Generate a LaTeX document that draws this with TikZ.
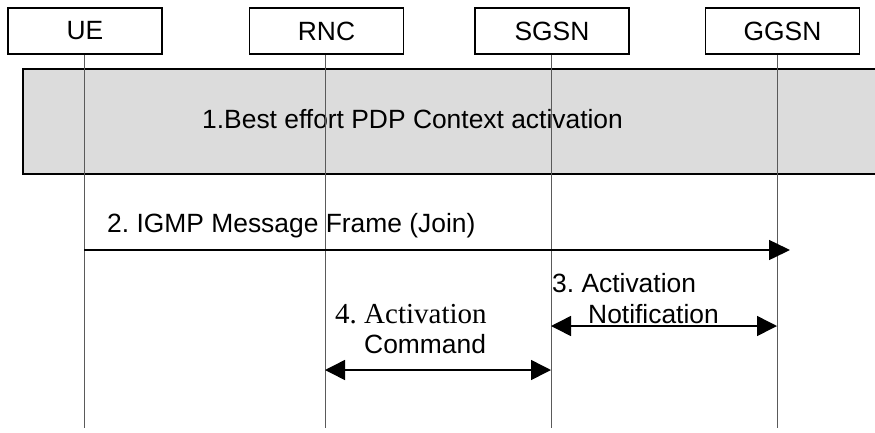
\documentclass[tikz,border=0pt]{standalone}
\usepackage{fontspec}
\setmainfont{Liberation Sans}
\newfontfamily\timesfont{Liberation Serif}
\usetikzlibrary{arrows.meta}
\frenchspacing
\definecolor{phasefill}{HTML}{DCDCDC}
\definecolor{lifegray}{HTML}{5A5A5A}
\tikzset{
  entity/.style={rectangle, draw=black, fill=white, line width=1.5pt, minimum width=154pt, minimum height=46pt, inner sep=0pt, font=\fontsize{26.4}{30}\selectfont},
  phasebox/.style={rectangle, fill=phasefill, inner sep=0pt},
  lifeline/.style={draw=lifegray, line width=1pt},
  msgtext/.style={anchor=base west, inner sep=0pt, font=\fontsize{26.4}{30}\selectfont},
  msg/.style={-{Triangle[length=21pt, width=20pt]}, line width=1.5pt, draw=black},
  twoway/.style={{Triangle[length=20pt, width=20pt]}-{Triangle[length=20pt, width=20pt]}, line width=1.5pt, draw=black}
}

\begin{document}
\begin{tikzpicture}[x=1pt, y=-1pt]
\useasboundingbox (0,0) rectangle (875,432);

% Phase 1 box, open towards the right edge.
\node[phasebox, minimum width=852pt, minimum height=105pt] (pdpbox) at (449,121.5) {};
\draw[line width=1.5pt] (pdpbox.north east) -- (pdpbox.north west) -- (pdpbox.south west) -- (pdpbox.south east);
\node[msgtext] (pdplabel) at (202,128) {1.Best effort PDP Context activation};

% Entities and their lifelines.
\node[entity] (ue) at (85,31) {UE};
\node[entity] (rnc) at (326.5,31) {RNC};
\node[entity] (sgsn) at (552,31) {SGSN};
\node[entity] (ggsn) at (782.5,31) {GGSN};

\coordinate (ueend) at (84,428);
\coordinate (rncend) at (325,428);
\coordinate (sgsnend) at (551,428);
\coordinate (ggsnend) at (777,428);

\draw[lifeline] (ueend |- ue.south) -- (ueend);
\draw[lifeline] (rncend |- rnc.south) -- (rncend);
\draw[lifeline] (sgsnend |- sgsn.south) -- (sgsnend);
\draw[lifeline] (ggsnend |- ggsn.south) -- (ggsnend);

% Messages.
\coordinate (jointip) at (790,250);
\coordinate (notifyrow) at (0,326);
\coordinate (commandrow) at (0,370);

\draw[msg] (ueend |- jointip) -- (jointip);
\node[msgtext] (joinlabel) at (107,232) {2. IGMP Message Frame (Join)};

\draw[twoway] (sgsnend |- notifyrow) -- (ggsnend |- notifyrow);
\node[msgtext] (notifya) at (552,292) {3. Activation};
\node[msgtext] (notifyb) at (588,323) {Notification};

\draw[twoway] (rncend |- commandrow) -- (sgsnend |- commandrow);
\node[msgtext, font=\timesfont\fontsize{29}{32}\selectfont] (commanda) at (335,323) {4. Activation};
\node[msgtext] (commandb) at (364,353) {Command};

\end{tikzpicture}
\end{document}
